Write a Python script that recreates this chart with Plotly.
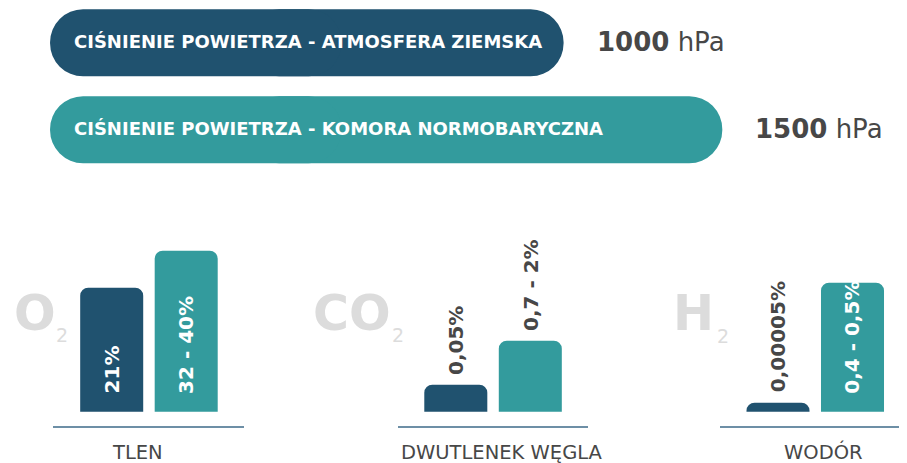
import plotly.graph_objects as go

# ---------------- data ----------------
pressure_labels = ["CIŚNIENIE POWIETRZA - ATMOSFERA ZIEMSKA",
                   "CIŚNIENIE POWIETRZA - KOMORA NORMOBARYCZNA"]
pressure_hpa = [1000, 1500]

conditions = ["Atmosfera ziemska", "Komora normobaryczna"]
categories = ["TLEN", "DWUTLENEK WĘGLA", "WODÓR"]
formula_main = ["O", "CO", "H"]
formula_sub = ["2", "2", "2"]
# visual bar heights (illustrative)
height_atm = [124, 27, 9]
height_chamber = [161, 71, 129]
labels_atm = ["21%", "0,05%", "0,00005%"]
labels_chamber = ["32 - 40%", "0,7 - 2%", "0,4 - 0,5%"]

# ---------------- style ----------------
PAGE_OFF = 8            # default body margin of the html page
W, H = 907 - PAGE_OFF, 463 - PAGE_OFF
DARK = "#20526f"
TEAL = "#339b9d"
GREY_TXT = "#474747"
FORMULA_GREY = "#dcdcdc"
LINE = "#6d8fa6"
FONT = "DejaVu Sans"
PILL_LEFT = -618        # decorative left end of the pressure pills
CAP_BASE = 300          # where the left cap overlaps the main pill


def fx(p):
    return (p - PAGE_OFF) / W


def fy(p):
    return 1 - (p - PAGE_OFF) / H


fig = go.Figure()

# top pills (pressure): main bar + rounded left cap overlapping it
fig.add_trace(go.Bar(
    orientation="h", y=pressure_labels, x=pressure_hpa, base=0,
    marker=dict(color=[DARK, TEAL], cornerradius=33, line_width=0),
    width=0.771, xaxis="x", yaxis="y", hoverinfo="skip", showlegend=False))
fig.add_trace(go.Bar(
    orientation="h", y=pressure_labels, x=[PILL_LEFT - CAP_BASE] * len(pressure_hpa),
    base=CAP_BASE,
    marker=dict(color=[DARK, TEAL], cornerradius=33, line_width=0),
    width=0.771, xaxis="x", yaxis="y", hoverinfo="skip", showlegend=False))

# gas bars
for i in range(len(categories)):
    fig.add_trace(go.Bar(
        x=conditions, y=[height_atm[i], height_chamber[i]],
        marker=dict(color=[DARK, TEAL], cornerradius=8, line_width=0),
        width=0.846, xaxis=f"x{i+2}", yaxis=f"y{i+2}",
        hoverinfo="skip", showlegend=False))

k = 0.3174        # px per hPa on the pill axis
zero_px = 246.2   # pixel of 0 hPa
row0_px, row_step = 42.8, 86.9

layout = dict(
    width=W, height=H, margin=dict(l=0, r=0, t=0, b=0),
    paper_bgcolor="white", plot_bgcolor="rgba(0,0,0,0)",
    barmode="overlay", showlegend=False,
    font=dict(family=FONT, color=GREY_TXT),
    xaxis=dict(domain=[0, 1], range=[(PAGE_OFF - zero_px) / k, (907 - zero_px) / k],
               visible=False, anchor="y", fixedrange=True),
    yaxis=dict(domain=[fy(180), 1],
               range=[(180 - row0_px) / row_step, (PAGE_OFF - row0_px) / row_step],
               visible=False, anchor="x", type="category", fixedrange=True),
)

group_px = [(53.3, 244, 111.7), (397.7, 588, 455.8), (720, 907, 778)]
unit = 74.5
for i, (d0, d1, c0) in enumerate(group_px):
    layout[f"xaxis{i+2}"] = dict(
        domain=[fx(d0), min(1, fx(d1))], range=[(d0 - c0) / unit, (d1 - c0) / unit],
        anchor=f"y{i+2}", showline=True, linecolor=LINE, linewidth=1.6,
        showticklabels=False, ticks="", showgrid=False, zeroline=False, fixedrange=True)
    layout[f"yaxis{i+2}"] = dict(
        domain=[fy(426), fy(230)], range=[-14.3, 181.7], visible=False,
        anchor=f"x{i+2}", fixedrange=True)

annotations = []
# pill texts and hPa values
for j, lab in enumerate(pressure_labels):
    annotations.append(dict(
        x=PILL_LEFT, y=lab, xref="x", yref="y", xanchor="left", yanchor="middle",
        xshift=22, yshift=1, text=f"<b>{lab}</b>", showarrow=False,
        font=dict(family=FONT, size=18, color="white")))
    annotations.append(dict(
        x=pressure_hpa[j], y=lab, xref="x", yref="y", xanchor="left", yanchor="middle",
        xshift=31, yshift=1, text=f"<b>{pressure_hpa[j]}</b> hPa", showarrow=False,
        font=dict(family=FONT, size=26, color=GREY_TXT)))

# value labels on the gas bars
for i in range(len(categories)):
    for c, (h, lab) in enumerate(((height_atm[i], labels_atm[i]),
                                   (height_chamber[i], labels_chamber[i]))):
        inside = h >= 100
        annotations.append(dict(
            x=conditions[c], y=0 if inside else h, xref=f"x{i+2}", yref=f"y{i+2}",
            xanchor="center", yanchor="bottom", yshift=16 if inside else 8,
            textangle=-90, text=f"<b>{lab}</b>", showarrow=False,
            font=dict(family=FONT, size=20, color="white" if inside else GREY_TXT)))

# formulas (big grey) and category names
formula_pos = [((13, 313), (55, 335)), ((312, 313.4), (391, 335.3)), ((672, 313.3), (716, 336))]
cat_shift = [-10.7, 9, 9.5]
for i in range(len(categories)):
    (mx, my), (sx, sy) = formula_pos[i]
    annotations.append(dict(
        x=fx(mx), y=fy(my), xref="paper", yref="paper", xanchor="left", yanchor="middle",
        text=f"<b>{formula_main[i]}</b>", showarrow=False, borderpad=0,
        font=dict(family=FONT, size=49, color=FORMULA_GREY)))
    annotations.append(dict(
        x=fx(sx), y=fy(sy), xref="paper", yref="paper", xanchor="left", yanchor="middle",
        text=formula_sub[i], showarrow=False, borderpad=0,
        font=dict(family=FONT, size=19, color=FORMULA_GREY)))
    annotations.append(dict(
        x=0.5, y=fy(452), xref=f"x{i+2} domain", yref="paper", xanchor="center",
        yanchor="middle", xshift=cat_shift[i], text=categories[i], showarrow=False,
        borderpad=0, font=dict(family=FONT, size=19.5, color=GREY_TXT)))

layout["annotations"] = annotations
fig.update_layout(**layout)
fig.write_html("out.html", config={"displayModeBar": False})
